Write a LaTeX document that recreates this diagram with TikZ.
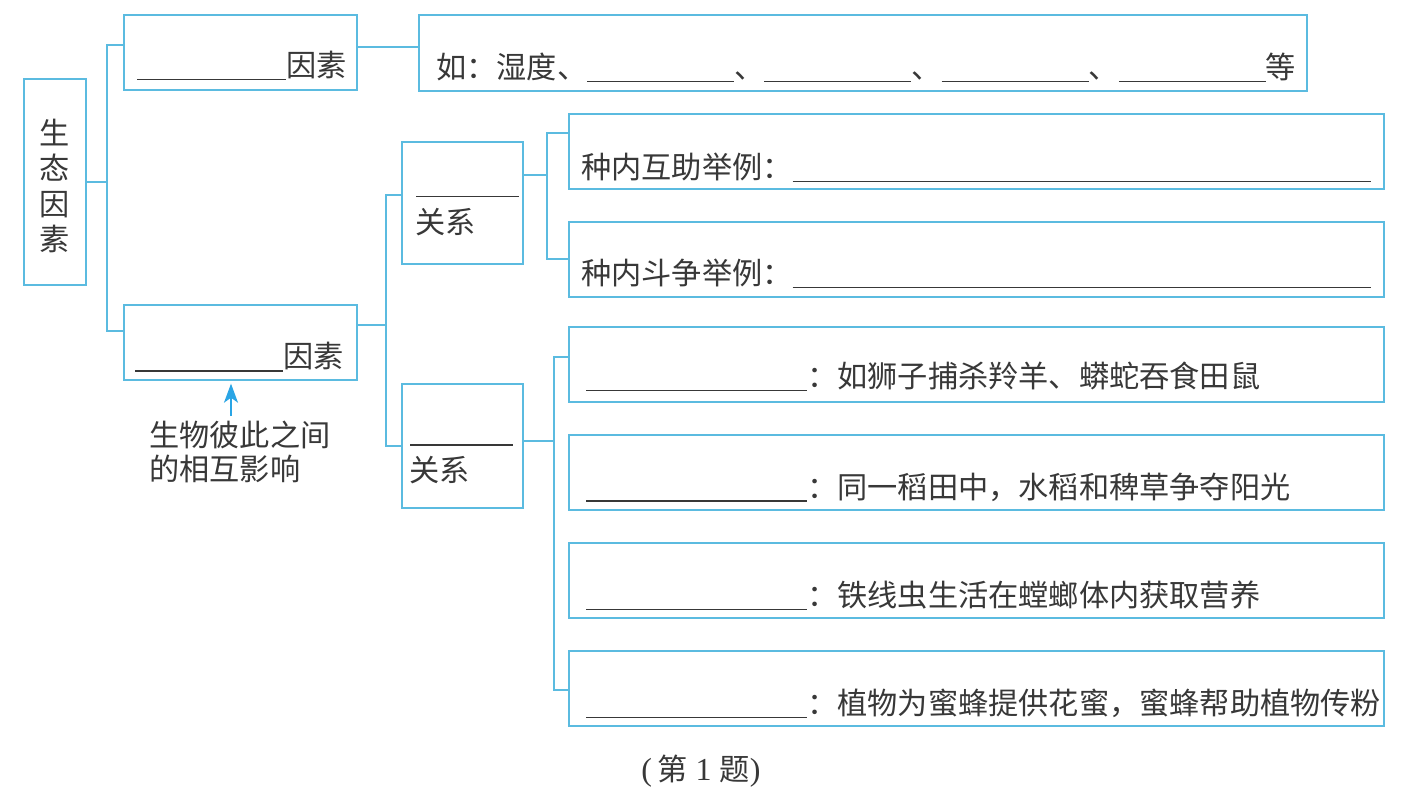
\documentclass[tikz,border=0pt]{standalone}
\usepackage{fontspec}
\usetikzlibrary{arrows.meta}
\newfontfamily\cjk{Noto Sans CJK SC}
\newfontfamily\serifcap{Liberation Serif}
\definecolor{linecol}{HTML}{5BBBE0}
\definecolor{arrcol}{HTML}{2AA5E5}
\definecolor{txtcol}{HTML}{383838}
\newcommand{\blank}[1]{\rule[-3.5pt]{#1pt}{1.4pt}}
\tikzset{
  box/.style={draw=linecol, line width=1.4pt, rectangle, inner sep=0pt},
  conn/.style={draw=linecol, line width=1.4pt},
  txt/.style={anchor=base west, inner sep=0pt, text=txtcol, font=\cjk\fontsize{30.2}{34}\selectfont},
  arr/.style={draw=arrcol, line width=1.6pt, -{Stealth[length=19pt,width=14pt,inset=5pt]}}
}
\begin{document}
\begin{tikzpicture}[x=1pt,y=-1pt]
\useasboundingbox[fill=white] (0,0) rectangle (1416,791);
% boxes
\node[box, minimum width=62pt, minimum height=206pt] (root) at (55,182) {};
\node[box, minimum width=233pt, minimum height=75pt] (f1) at (240.5,52.5) {};
\node[box, minimum width=888pt, minimum height=76pt] (abio) at (863,53) {};
\node[box, minimum width=233pt, minimum height=75pt] (f2) at (240.5,342.5) {};
\node[box, minimum width=121pt, minimum height=122pt] (r1) at (462.5,203) {};
\node[box, minimum width=121pt, minimum height=124pt] (r2) at (462.5,446) {};
\node[box, minimum width=815pt, minimum height=75pt] (a1) at (976.5,151.5) {};
\node[box, minimum width=815pt, minimum height=75pt] (a2) at (976.5,259.5) {};
\node[box, minimum width=815pt, minimum height=75pt] (b1) at (976.5,364.5) {};
\node[box, minimum width=815pt, minimum height=75pt] (b2) at (976.5,472.5) {};
\node[box, minimum width=815pt, minimum height=75pt] (b3) at (976.5,580.5) {};
\node[box, minimum width=815pt, minimum height=75pt] (b4) at (976.5,688.5) {};
% texts
\node[anchor=center, inner sep=0pt, text=txtcol, align=center, font=\cjk\fontsize{30.2}{35.5}\selectfont] (roottxt) at (55,186) {生\\态\\因\\素};
\node[txt] (f1txt) at (137,77) {\blank{149}因素};
\node[txt] (abiotxt) at (436,79) {如：湿度、\blank{147}、\blank{147}、\blank{147}、\blank{147}等};
\node[txt] (f2txt) at (135,368) {\blank{148}因素};
\node[txt] (r1blank) at (416,194) {\blank{103}};
\node[txt] (r1txt) at (415,233.6) {关系};
\node[txt] (r2blank) at (410,442) {\blank{103}};
\node[txt] (r2txt) at (409,481.6) {关系};
\node[txt] (a1txt) at (581,179) {种内互助举例：\blank{578}};
\node[txt] (a2txt) at (581,285) {种内斗争举例：\blank{578}};
\node[txt] (b1txt) at (586,388) {\blank{221}：如狮子捕杀羚羊、蟒蛇吞食田鼠};
\node[txt] (b2txt) at (586,498) {\blank{221}：同一稻田中，水稻和稗草争夺阳光};
\node[txt] (b3txt) at (586,606.5) {\blank{221}：铁线虫生活在螳螂体内获取营养};
\node[txt] (b4txt) at (586,714.5) {\blank{221}：植物为蜜蜂提供花蜜，蜜蜂帮助植物传粉};
\node[txt] (note1) at (149,446) {生物彼此之间};
\node[txt] (note2) at (149,480.5) {的相互影响};
\node[anchor=base, inner sep=0pt, text=txtcol] (cap) at (701,780) {\serifcap\fontsize{32}{36}\selectfont(\,\cjk\fontsize{30.2}{36}\selectfont 第\serifcap\fontsize{32}{36}\selectfont\ 1\ \cjk\fontsize{30.2}{36}\selectfont 题\serifcap\fontsize{32}{36}\selectfont)};
% connectors
\coordinate (j0) at (107,182);
\draw[conn] (root.east) -- (j0);
\draw[conn] (f1.west |- 0,45) -| (j0) |- (f2.west |- 0,331);
\draw[conn] (f1.east |- 0,47) -- (abio.west |- 0,47);
\coordinate (j1) at (386,325);
\draw[conn] (f2.east |- j1) -- (j1);
\draw[conn] (r1.west |- 0,195) -| (j1) |- (r2.west |- 0,446);
\coordinate (j2) at (547,175);
\draw[conn] (r1.east |- j2) -- (j2);
\draw[conn] (a1.west |- 0,133) -| (j2) |- (a2.west |- 0,259);
\coordinate (j3) at (554,441);
\draw[conn] (r2.east |- j3) -- (j3);
\draw[conn] (b1.west |- 0,357) -| (j3) |- (b4.west |- 0,690);
% arrow
\coordinate (arrtail) at (231,416);
\draw[arr, shorten >=3pt] (arrtail) -- (f2.south -| arrtail);
\end{tikzpicture}
\end{document}
